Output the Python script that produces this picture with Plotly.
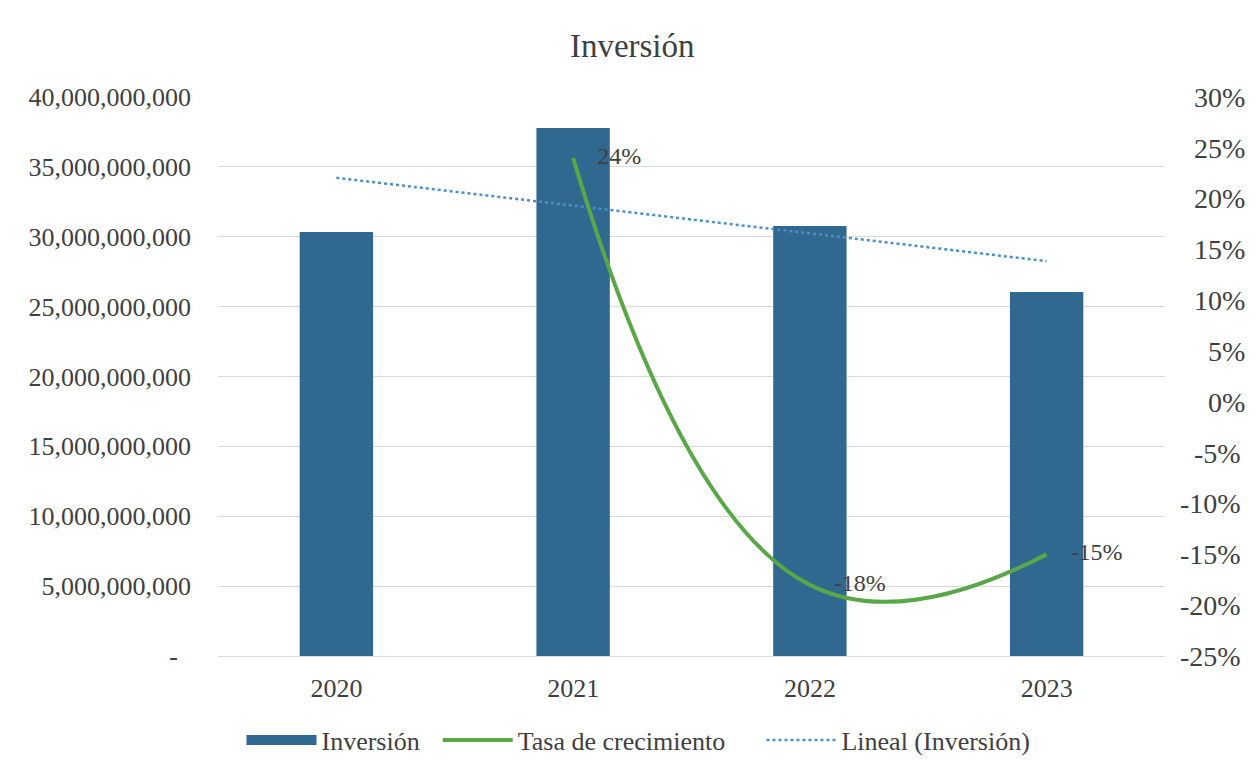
"""
Inversión: bars of yearly investment, growth-rate spline on a
secondary axis and a linear trendline of the investment.
"""

import numpy as np
import plotly.graph_objects as go

years = ["2020", "2021", "2022", "2023"]
inversion = [30.34e9, 37.78e9, 30.77e9, 26.05e9]
tasa_crecimiento = [None, 0.24, -0.18, -0.15]
tasa_labels = ["", "    24%", "    -18%", "    -15%"]

left_ticks = [0, 5e9, 10e9, 15e9, 20e9, 25e9, 30e9, 35e9, 40e9]
left_labels = ["-\u2007", "5,000,000,000", "10,000,000,000", "15,000,000,000",
               "20,000,000,000", "25,000,000,000", "30,000,000,000",
               "35,000,000,000", "40,000,000,000"]
right_ticks = [-0.25, -0.20, -0.15, -0.10, -0.05, 0, 0.05, 0.10, 0.15, 0.20, 0.25, 0.30]
right_labels = ["-25%", "-20%", "-15%", "-10%", "\u2007-5%", "\u2007\u20070%", "\u2007\u20075%",
                "\u200710%", "\u200715%", "\u200720%", "\u200725%", "\u200730%"]

FONT = "Liberation Serif"
TEXT = "#404040"
BAR_COLOR = "#31688f"
LINE_COLOR = "#5aa748"
TREND_COLOR = "#4a8fcc"

# linear trendline of the bars (as Excel does)
xi = np.arange(1, len(inversion) + 1)
slope, intercept = np.polyfit(xi, inversion, 1)
trend = slope * xi + intercept

fig = go.Figure()

fig.add_trace(go.Bar(
    x=years,
    y=inversion,
    name="Inversión",
    marker=dict(color=BAR_COLOR, line=dict(width=0)),
    width=0.31,
    showlegend=False,
    legendgroup="inv",
))

# wide swatch for the bar series in the legend
fig.add_trace(go.Scatter(
    x=[None],
    y=[None],
    name="Inversión\u2002",
    mode="lines",
    line=dict(color=BAR_COLOR, width=13),
    legendgroup="inv",
))

fig.add_trace(go.Scatter(
    x=years,
    y=tasa_crecimiento,
    name="Tasa de crecimiento\u2003\u2009",
    mode="lines+text",
    line=dict(color=LINE_COLOR, width=4, shape="spline", smoothing=1.3),
    text=tasa_labels,
    textposition="middle right",
    textfont=dict(family=FONT, size=24, color=TEXT),
    yaxis="y2",
))

fig.add_trace(go.Scatter(
    x=years,
    y=trend,
    name="Lineal (Inversión)",
    mode="lines",
    line=dict(color=TREND_COLOR, width=2.5, dash="dot"),
))

# page body adds 8px offset, margins below account for it
fig.update_layout(
    width=1256,
    height=774,
    paper_bgcolor="white",
    plot_bgcolor="white",
    font=dict(family=FONT, size=26, color=TEXT),
    title=dict(text="Inversión", x=0.497, xanchor="center", y=0.952, yanchor="middle",
               font=dict(family=FONT, size=33, color=TEXT)),
    margin=dict(l=210, r=99, t=89, b=126, autoexpand=False),
    showlegend=True,
    legend=dict(
        orientation="h",
        xref="container", yref="container",
        x=0.502, xanchor="center", y=0.054, yanchor="middle",
        font=dict(family=FONT, size=26, color=TEXT),
        itemwidth=70,
        traceorder="normal",
    ),
    xaxis=dict(
        type="category",
        showgrid=False,
        showline=False,
        ticks="",
        ticklabelstandoff=14,
    ),
    yaxis=dict(
        range=[0, 40e9],
        tickvals=left_ticks,
        ticktext=left_labels,
        showgrid=True,
        gridcolor="#d9d9d9",
        gridwidth=1,
        zeroline=True,
        zerolinecolor="#d9d9d9",
        zerolinewidth=1,
        showline=False,
        ticks="",
        ticklabelstandoff=26,
    ),
    yaxis2=dict(
        range=[-0.25, 0.30],
        overlaying="y",
        side="right",
        tickvals=right_ticks,
        ticktext=right_labels,
        showgrid=False,
        zeroline=False,
        showline=False,
        ticks="",
        ticklabelstandoff=14,
        tickfont=dict(size=28),
    ),
)

fig.write_html("out.html")
